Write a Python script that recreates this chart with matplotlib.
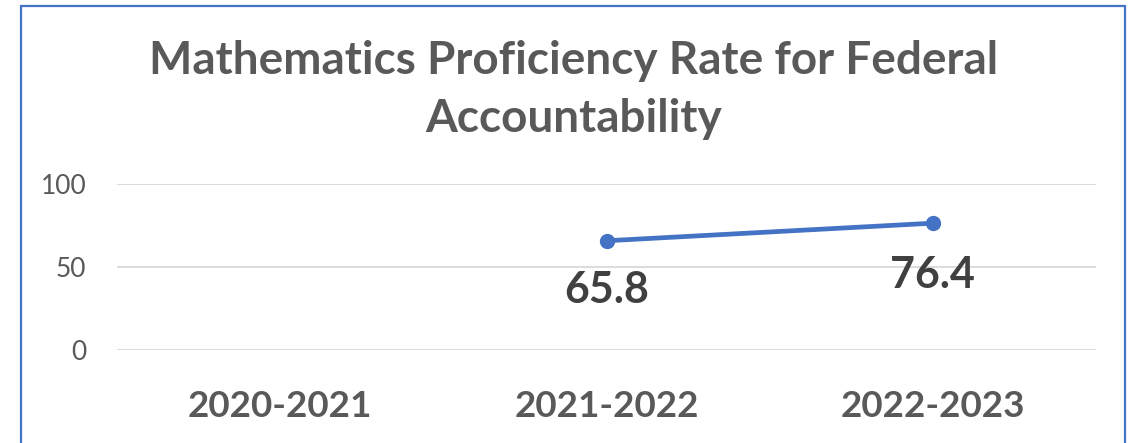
import matplotlib.pyplot as plt
from matplotlib.patches import Rectangle

# chart data
years = ["2020-2021", "2021-2022", "2022-2023"]
rates = [None, 65.8, 76.4]
yticks = [0, 50, 100]

W, H = 1133, 443

def main():
	plt.rcParams['font.family'] = ['Lato', 'DejaVu Sans']
	fig = plt.figure(figsize=(W / 100, H / 100), dpi=100)

	# outer chart border (bottom edge lies off the picture)
	fig.patches.append(Rectangle((21 / W, -0.05), (1125 - 21) / W, 1.05 - 6 / H,
		transform=fig.transFigure, fill=False, edgecolor="#4472C4", linewidth=1.6))

	ax = fig.add_axes([117 / W, 1 - 350 / H, (1096 - 117) / W, (350 - 184) / H])
	x = list(range(len(years)))
	xs = [i for i, v in zip(x, rates) if v is not None]
	ys = [v for v in rates if v is not None]
	ax.plot(xs, ys, color="#4472C4", linewidth=3.4, marker='o', markersize=10,
		solid_capstyle='round', zorder=3)

	# data labels
	offsets = {1: -21, 2: -23}
	for i, v in zip(xs, ys):
		ax.annotate(f"{v}", (i, v), xytext=(0, offsets[i]), textcoords='offset points',
			ha='center', va='top', fontsize=31, fontweight='bold', color="#404040")

	ax.set_xlim(-0.5, len(years) - 0.5)
	ax.set_ylim(0, 100)
	ax.set_yticks(yticks)
	ax.set_yticklabels([str(t) for t in yticks], fontsize=19, color="#595959")
	ax.set_xticks(x)
	ax.set_xticklabels(years, fontsize=26.5, fontweight='bold', color="#595959")
	ax.tick_params(axis='both', length=0)
	ax.tick_params(axis='x', pad=29)
	ax.tick_params(axis='y', pad=22)
	ax.grid(axis='y', color="#D9D9D9", linewidth=1.3)
	ax.set_axisbelow(True)
	for s in ax.spines.values():
		s.set_visible(False)

	fig.text(574 / W, 1 - 90 / H, "Mathematics Proficiency Rate for Federal\nAccountability",
		ha='center', va='center', fontsize=33, fontweight='bold', color="#595959",
		linespacing=1.45)

	fig.savefig("out.png", dpi=100)

if __name__ == '__main__':
	main()
